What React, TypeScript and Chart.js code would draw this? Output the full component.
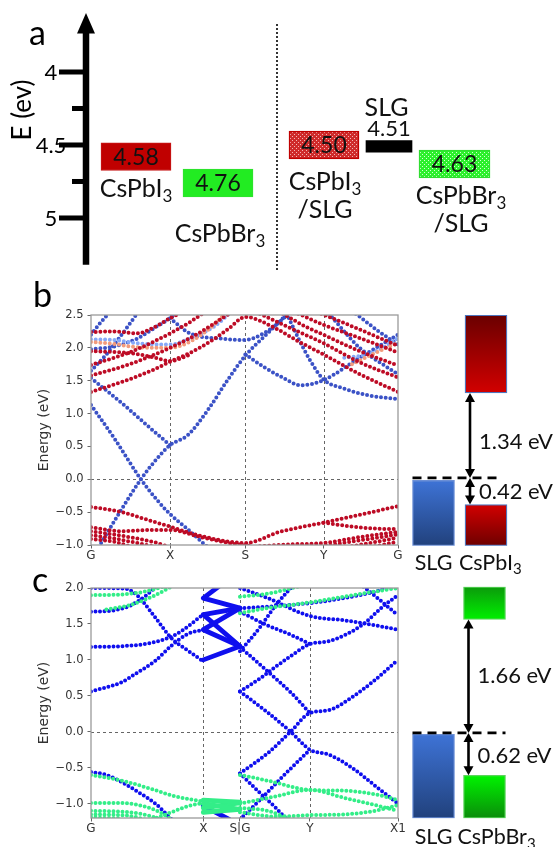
import React, { useEffect, useRef } from 'react';
import { Chart, registerables } from 'chart.js';
Chart.register(...registerables);

const FONT = 'Lato, "Noto Sans", sans-serif';
const MPL = '"DejaVu Sans", sans-serif';

// ---------- Panel a data ----------
const levelNames = ['CsPbI_3', 'CsPbBr_3', 'CsPbI_3/SLG', 'SLG', 'CsPbBr_3/SLG'];
const levelValues = [4.58, 4.76, 4.5, 4.51, 4.63];
const eTicks = [4, 4.25, 4.5, 4.75, 5];
const eTickLabels = ['4', '', '4.5', '', '5'];

// layout of panel a (positions / sizes, not data)
const levelSlotX = [136, 218, 324, 389, 454.5];
const levelBoxW = [70, 70, 70, 46, 71];
const levelHalfH = [0.095, 0.095, 0.095, 0.04, 0.095];
const levelLabelLines = [['CsPbI_3'], ['CsPbBr_3'], ['CsPbI_3', '/SLG'], ['SLG'], ['CsPbBr_3', '/SLG']];
const levelLabelDy = [[40], [59], [45, 73], [-30], [40, 68]];
const levelLabelDx = [0, 2, 1, -2.5, 6.5];

// ---------- Panel b data (k: G=0 ... G=4) ----------
const bKTicks = [0, 1.03, 2.01, 3.03, 4];
const bKLabels = ['G', 'X', 'S', 'Y', 'G'];
const bETicks = [-1, -0.5, 0, 0.5, 1, 1.5, 2, 2.5];
const bELabels = ['\u22121.0', '\u22120.5', '0.0', '0.5', '1.0', '1.5', '2.0', '2.5'];

const bRedBands = [
  [[0, -0.42], [0.4, -0.5], [0.8, -0.64], [1.03, -0.72], [1.3, -0.82], [1.7, -0.93], [2.01, -0.97], [2.46, -0.8], [3.03, -0.66], [3.54, -0.53], [4, -0.41]],
  [[3.03, -0.66], [3.4, -0.72], [3.7, -0.75], [4, -0.76]],
  [[0, -0.73], [0.4, -0.79], [0.8, -0.77], [1.03, -0.77], [1.4, -0.87], [1.8, -0.97], [2.1, -1.02]],
  [[0, -0.79], [0.4, -0.86], [0.8, -0.95], [1.0, -1.02]],
  [[0, -0.85], [0.3, -0.9], [0.6, -0.97], [0.8, -1.02]],
  [[0, -0.91], [0.3, -0.95], [0.5, -1.02]],
  [[2.2, -1.02], [2.6, -0.99], [3.03, -0.97], [3.5, -0.88], [4, -0.8]],
  [[3.0, -1.02], [3.5, -0.93], [4, -0.84]],
  [[3.4, -1.02], [4, -0.89]],
  [[3.7, -1.02], [4, -0.95]],
  [[0, 1.33], [0.4, 1.48], [0.8, 1.66], [1.03, 1.79], [1.3, 1.93], [1.6, 2.13], [1.8, 2.3], [2.01, 2.47], [2.4, 2.3], [2.7, 2.1], [3.03, 1.9], [3.5, 1.6], [4, 1.33]],
  [[0, 1.58], [0.5, 1.75], [1.03, 2.0], [1.4, 2.22], [1.8, 2.52]],
  [[0, 1.74], [0.5, 1.93], [1.03, 2.22], [1.3, 2.4], [1.45, 2.52]],
  [[0, 1.95], [0.5, 1.92], [0.8, 1.86], [1.03, 1.8], [1.3, 1.9]],
  [[0, 2.24], [0.3, 2.25], [0.6, 2.22], [0.8, 2.3], [1.03, 2.45], [1.15, 2.52]],
  [[2.2, 2.52], [2.6, 2.3], [3.03, 2.07], [3.5, 1.78], [4, 1.55]],
  [[2.5, 2.52], [2.8, 2.32], [3.03, 2.2], [3.5, 1.95], [4, 1.73]],
  [[2.7, 2.52], [3.03, 2.35], [3.5, 2.15], [4, 1.93]],
  [[3.0, 2.52], [3.5, 2.28], [4, 2.03]],
];
const bLightBands = [
  [[0, 2.13], [0.3, 2.12], [0.6, 2.07], [1.03, 2.05], [1.3, 2.15], [1.6, 2.32], [1.8, 2.52]],
  [[3.3, 1.85], [3.6, 1.9], [3.8, 2.0], [4, 2.15]],
];
const bOrangeBands = [
  [[0, 2.09], [0.3, 2.06], [0.6, 2.01], [1.03, 2.0], [1.3, 2.1], [1.55, 2.3], [1.75, 2.52]],
  [[3.4, 1.75], [3.7, 1.92], [4, 2.08]],
];
const bBlueBands = [
  [[0, 1.13], [0.3, 0.63], [0.65, 0.0], [0.85, -0.3], [1.03, -0.53], [1.25, -0.75], [1.46, -0.97], [1.52, -1.03]],
  [[0.1, -1.03], [0.35, -0.55], [0.65, 0.0], [0.85, 0.3], [1.03, 0.52], [1.26, 0.67], [1.52, 1.05], [1.78, 1.51], [2.01, 1.88], [2.3, 2.22], [2.56, 2.52]],
  [[0, 1.54], [0.4, 1.16], [0.8, 0.75], [1.03, 0.52]],
  [[0, 1.65], [0.2, 1.9], [0.4, 2.2], [0.6, 2.52]],
  [[0, 2.2], [0.1, 2.35], [0.25, 2.55]],
  [[1.03, 2.45], [1.29, 2.22], [1.7, 2.14], [2.01, 2.12], [2.25, 2.22], [2.43, 2.37], [2.56, 2.5]],
  [[0, 1.98], [0.3, 2.02], [0.6, 2.14], [0.85, 2.32], [1.03, 2.45], [1.1, 2.52]],
  [[2.01, 1.9], [2.25, 1.71], [2.51, 1.54], [2.73, 1.43], [3.03, 1.51], [3.5, 1.85], [4, 2.2]],
  [[2.55, 2.52], [2.7, 2.15], [2.85, 1.82], [3.03, 1.52], [3.3, 1.38], [3.6, 1.28], [4, 1.22]],
  [[3.1, 2.52], [3.5, 2.0], [3.8, 1.75], [4, 1.6]],
  [[3.45, 2.52], [3.75, 2.25], [4, 2.05]],
];

// ---------- Panel c data (k: G=0, X, S|G, Y, X1=4) ----------
const cKTicks = [0, 1.463, 1.941, 2.853, 4];
const cKLabels = ['G', 'X', 'S|G', 'Y', 'X1'];
const cETicks = [-1, -0.5, 0, 0.5, 1, 1.5, 2];
const cELabels = ['\u22121.0', '\u22120.5', '0.0', '0.5', '1.0', '1.5', '2.0'];

const cGreenBands = [
  [[0, 1.9], [0.4, 1.91], [0.7, 1.95], [0.95, 2.02]],
  [[0.2, 1.7], [0.5, 1.76], [0.8, 1.88], [1.05, 2.02]],
  [[0, -0.6], [0.4, -0.68], [0.8, -0.8], [1.1, -0.9], [1.463, -0.97]],
  [[0, -0.99], [0.4, -0.99], [0.7, -1.04], [0.9, -1.12], [1.05, -1.22]],
  [[0.8, -1.22], [1.05, -1.12], [1.25, -1.04], [1.463, -0.99]],
  [[0, -1.1], [0.5, -1.12], [0.8, -1.18], [0.9, -1.22]],
  [[0, -1.15], [0.5, -1.17], [0.7, -1.22]],
  [[0, -1.19], [0.4, -1.21]],
  [[1.941, -0.6], [2.3, -0.68], [2.853, -0.81], [3.3, -0.82], [3.7, -0.87], [4, -0.95]],
  [[1.941, -1.0], [2.4, -0.9], [2.853, -0.81], [3.3, -0.92], [3.7, -1.02], [4, -1.1]],
  [[1.941, -1.12], [2.4, -1.18], [2.853, -1.16], [3.3, -1.15], [3.7, -1.1], [4, -1.02]],
  [[1.941, -1.06], [2.3, -1.1], [2.6, -1.22]],
  [[1.941, 1.65], [2.3, 1.72], [2.853, 1.8], [3.3, 1.88], [3.7, 1.95], [4, 2.0]],
  [[1.941, 1.88], [2.3, 1.92], [2.7, 2.02]],
];
const cGreenZigzags = [
  [[1.463, -0.95], [1.941, -0.98]],
  [[1.463, -1.0], [1.941, -1.08], [1.463, -1.12]],
  [[1.463, -1.06], [1.941, -0.99]],
];
const cBlueBands = [
  [[0, 1.18], [0.4, 1.19], [0.8, 1.24], [1.1, 1.35], [1.463, 1.63]],
  [[0, 0.56], [0.4, 0.69], [0.6, 0.82], [0.83, 0.98], [1.05, 1.2], [1.26, 1.36], [1.463, 1.42]],
  [[0, 2.0], [0.45, 1.99], [0.6, 1.9], [0.83, 1.6], [1.05, 1.3], [1.26, 1.13], [1.463, 0.98]],
  [[0, 1.67], [0.3, 1.69], [0.5, 1.75], [0.7, 1.88], [0.85, 2.02]],
  [[0, -0.56], [0.2, -0.6], [0.4, -0.7], [0.6, -0.83], [0.85, -1.01], [1.05, -1.22]],
  [[1.941, 0.56], [2.2, 0.74], [2.4, 0.9], [2.6, 1.05], [2.853, 1.22], [3.1, 1.26], [3.54, 1.49], [3.8, 1.74], [4, 1.9]],
  [[1.941, 0.56], [2.3, 0.27], [2.6, 0.0], [2.853, -0.25], [3.1, -0.32], [3.4, -0.5], [3.7, -0.75], [4, -1.0]],
  [[1.941, -0.58], [2.3, -0.3], [2.6, 0.0], [2.853, 0.26], [3.1, 0.3], [3.4, 0.48], [3.7, 0.72], [4, 1.0]],
  [[1.941, 1.67], [2.3, 1.48], [2.6, 1.35], [2.853, 1.22]],
  [[1.941, 1.18], [2.3, 0.84], [2.6, 0.55], [2.853, 0.26]],
  [[1.941, 1.12], [2.2, 1.45], [2.4, 1.75], [2.56, 1.95], [2.62, 2.02]],
  [[1.941, -0.58], [2.2, -0.85], [2.4, -1.05], [2.55, -1.22]],
  [[1.941, -1.22], [2.2, -0.95], [2.5, -0.62], [2.853, -0.25]],
  [[1.941, 2.0], [2.3, 1.86], [2.853, 1.61], [3.3, 1.55], [3.7, 1.48], [4, 1.42]],
  [[1.941, 1.72], [2.3, 1.74], [2.853, 1.79], [3.3, 1.86], [3.7, 1.95], [3.9, 2.02]],
  [[3.55, 2.02], [3.8, 1.8], [4, 1.62]],
];
const cBlueZigzags = [
  [[1.463, 1.0], [1.941, 1.19], [1.463, 1.42], [1.941, 1.72], [1.463, 1.86], [1.7, 2.05]],
  [[1.941, 1.72], [1.463, 1.63], [1.941, 1.19]],
  [[1.463, -1.03], [1.8, -1.22]],
];

// ---------- Band alignment diagrams ----------
const diagBNames = ['SLG', 'CsPbI_3'];
const diagBGap = 1.34;
const diagBOffset = 0.42;
const diagBEdges = { top: 2.57, bottom: -1.07, slgTop: -0.04 };
const diagCNames = ['SLG', 'CsPbBr_3'];
const diagCGap = 1.66;
const diagCOffset = 0.62;
const diagCEdges = { top: 2.14, bottom: -1.25, slgTop: -0.02 };

// ---------- helpers ----------
function drawChem(ctx: CanvasRenderingContext2D, text: string, x: number, y: number, size: number, align = 'center') {
  const parts = text.split(/(_\d)/).filter(Boolean);
  const main = `${size}px ${FONT}`;
  const sub = `${Math.round(size * 0.68)}px ${FONT}`;
  let total = 0;
  const widths = parts.map((p) => {
    ctx.font = p.startsWith('_') ? sub : main;
    const w = ctx.measureText(p.replace('_', '')).width;
    total += w;
    return w;
  });
  let cx = align === 'center' ? x - total / 2 : align === 'right' ? x - total : x;
  ctx.textAlign = 'left';
  ctx.textBaseline = 'alphabetic';
  parts.forEach((p, i) => {
    const isSub = p.startsWith('_');
    ctx.font = isSub ? sub : main;
    ctx.fillText(p.replace('_', ''), cx, isSub ? y + size * 0.2 : y);
    cx += widths[i];
  });
}

function speckle(base: string, dot: string) {
  const c = document.createElement('canvas');
  c.width = 4;
  c.height = 4;
  const g = c.getContext('2d')!;
  g.fillStyle = base;
  g.fillRect(0, 0, 4, 4);
  g.fillStyle = dot;
  g.fillRect(0, 0, 1, 1);
  g.fillRect(2, 2, 1, 1);
  return g.createPattern(c, 'repeat')!;
}

// ---------- Panel a ----------
function makePanelA(): any {
  const fills = [
    '#c00000',
    '#22ec22',
    speckle('#cf2b2b', '#f4b4b4'),
    '#000000',
    speckle('#2cf02c', '#d2ffd2'),
  ];
  const borders = ['#c81818', '#30e030', '#c00000', '#000000', '#30dd30'];
  const borderW = [1, 1, 1.5, 0, 1.5];
  const plugin = {
    id: 'panelA',
    afterDatasetsDraw(chart: any) {
      const { ctx, scales } = chart;
      const x = scales.x;
      const y = scales.y;
      const ax = x.getPixelForValue(86);
      const yTop = y.getPixelForValue(y.min);
      const yBot = y.getPixelForValue(y.max);
      ctx.save();
      ctx.fillStyle = '#000';
      ctx.strokeStyle = '#000';
      ctx.lineWidth = 6.5;
      ctx.beginPath();
      ctx.moveTo(ax, yBot);
      ctx.lineTo(ax, yTop + 16);
      ctx.stroke();
      ctx.beginPath();
      ctx.moveTo(ax, yTop - 0.5);
      ctx.lineTo(ax - 9, yTop + 20);
      ctx.lineTo(ax + 9, yTop + 20);
      ctx.closePath();
      ctx.fill();
      eTicks.forEach((v, i) => {
        const py = y.getPixelForValue(v);
        const len = eTickLabels[i] ? 27 : 14;
        ctx.fillRect(ax - len, py - 2.5, len, 5);
      });
      ctx.font = `22px ${FONT}`;
      ctx.textAlign = 'center';
      ctx.textBaseline = 'middle';
      eTicks.forEach((v, i) => {
        if (!eTickLabels[i]) return;
        ctx.fillText(eTickLabels[i], ax - 35, y.getPixelForValue(v) + 1);
      });
      // axis title
      ctx.save();
      ctx.translate(23, 110);
      ctx.rotate(-Math.PI / 2);
      ctx.font = `26px ${FONT}`;
      ctx.textAlign = 'center';
      ctx.textBaseline = 'middle';
      ctx.fillText('E (ev)', 0, 0);
      ctx.restore();
      // panel letter
      ctx.font = `34px ${FONT}`;
      ctx.textAlign = 'left';
      ctx.textBaseline = 'alphabetic';
      ctx.fillText('a', 29, 45);
      // separator
      ctx.save();
      ctx.strokeStyle = '#333';
      ctx.lineWidth = 2;
      ctx.setLineDash([2, 2]);
      ctx.beginPath();
      ctx.moveTo(x.getPixelForValue(277), 24);
      ctx.lineTo(x.getPixelForValue(277), 272);
      ctx.stroke();
      ctx.restore();
      // box texts and labels
      ctx.fillStyle = '#111';
      levelValues.forEach((v, i) => {
        const el = chart.getDatasetMeta(i).data[0];
        const cx = el.x;
        const cy = y.getPixelForValue(v);
        if (levelNames[i] !== 'SLG') {
          ctx.font = `23px ${FONT}`;
          ctx.textAlign = 'center';
          ctx.textBaseline = 'middle';
          ctx.fillText(v.toFixed(2), cx, cy + 1);
        } else {
          ctx.font = `22px ${FONT}`;
          ctx.textAlign = 'center';
          ctx.textBaseline = 'alphabetic';
          ctx.fillText(v.toFixed(2), cx, cy - 10);
        }
        levelLabelLines[i].forEach((line, j) => {
          drawChem(ctx, line, cx + levelLabelDx[i], cy + levelLabelDy[i][j], 25);
        });
      });
      ctx.restore();
    },
  };
  return {
    type: 'bar',
    data: {
      datasets: levelValues.map((v, i) => ({
        label: levelNames[i],
        data: [{ x: levelSlotX[i], y: [v - levelHalfH[i], v + levelHalfH[i]] }],
        backgroundColor: fills[i],
        borderColor: borders[i],
        borderWidth: borderW[i],
        borderSkipped: false,
        barThickness: levelBoxW[i],
        grouped: false,
      })),
    },
    options: {
      animation: false,
      responsive: false,
      events: [],
      layout: { padding: { top: 13.6, bottom: 25.3, left: 0, right: 0 } },
      plugins: { legend: { display: false }, tooltip: { enabled: false } },
      scales: {
        x: { type: 'linear', min: 0, max: 559, display: false, offset: false },
        y: { type: 'linear', min: 3.6, max: 5.32, reverse: true, display: false },
      },
    },
    plugins: [plugin],
  };
}

// ---------- band structure charts ----------
type Group = { color: string; bands: number[][][]; solid?: boolean; gap?: number; width?: number };

function bandDatasets(groups: Group[]) {
  const ds: any[] = [];
  groups.forEach((g) => {
    g.bands.forEach((band) => {
      ds.push({
        data: band.map(([x, y]) => ({ x, y })),
        showLine: true,
        borderColor: g.color,
        backgroundColor: g.color,
        borderWidth: g.solid ? 4.8 : g.width || 4,
        borderDash: g.solid ? [] : [0, g.gap || 4.7],
        borderCapStyle: 'round',
        borderJoinStyle: 'round',
        pointRadius: 0,
        pointHoverRadius: 0,
        cubicInterpolationMode: g.solid ? 'default' : 'monotone',
        tension: 0,
        fill: false,
      });
    });
  });
  return ds;
}

function makeBand(spec: any): any {
  const frame = {
    id: 'bandFrame',
    beforeDatasetsDraw(chart: any) {
      const { ctx, chartArea: a, scales } = chart;
      ctx.save();
      ctx.strokeStyle = '#666';
      ctx.lineWidth = 1;
      ctx.setLineDash([3, 3]);
      spec.kTicks.slice(1, -1).forEach((k: number) => {
        const px = Math.round(scales.x.getPixelForValue(k)) + 0.5;
        ctx.beginPath();
        ctx.moveTo(px, a.top);
        ctx.lineTo(px, a.bottom);
        ctx.stroke();
      });
      const py = Math.round(scales.y.getPixelForValue(0)) + 0.5;
      ctx.beginPath();
      ctx.moveTo(a.left, py);
      ctx.lineTo(a.right, py);
      ctx.stroke();
      ctx.restore();
    },
    afterDatasetsDraw(chart: any) {
      const { ctx, chartArea: a } = chart;
      ctx.save();
      ctx.strokeStyle = '#9a9a9a';
      ctx.lineWidth = 1.3;
      ctx.strokeRect(a.left, a.top, a.right - a.left, a.bottom - a.top);
      ctx.fillStyle = '#000';
      ctx.font = `34px ${FONT}`;
      ctx.textAlign = 'left';
      ctx.textBaseline = 'alphabetic';
      ctx.fillText(spec.letter, spec.letterX, spec.letterY);
      ctx.restore();
    },
  };
  return {
    type: 'scatter',
    data: { datasets: bandDatasets(spec.groups) },
    options: {
      animation: false,
      responsive: false,
      events: [],
      layout: { padding: { top: spec.padTop, right: 12, left: 0, bottom: 0 } },
      plugins: { legend: { display: false }, tooltip: { enabled: false } },
      scales: {
        x: {
          type: 'linear',
          min: 0,
          max: 4,
          afterBuildTicks: (s: any) => {
            s.ticks = spec.kTicks.map((value: number) => ({ value }));
          },
          afterFit: (s: any) => {
            s.height = spec.xAxisH;
          },
          ticks: {
            autoSkip: false,
            maxRotation: 0,
            padding: 0,
            font: { family: MPL, size: 12 },
            color: '#333',
            callback: (_v: any, i: number) => spec.kLabels[i],
          },
          grid: { drawOnChartArea: false, tickLength: 3.5, color: '#666' },
          border: { display: false },
        },
        y: {
          type: 'linear',
          min: spec.eMin,
          max: spec.eMax,
          afterBuildTicks: (s: any) => {
            s.ticks = spec.eTicks.map((value: number) => ({ value }));
          },
          afterFit: (s: any) => {
            s.width = 91;
          },
          ticks: {
            autoSkip: false,
            padding: 4,
            font: { family: MPL, size: 11.5 },
            color: '#333',
            callback: (_v: any, i: number) => spec.eLabels[i],
          },
          grid: { drawOnChartArea: false, tickLength: 3.5, color: '#666' },
          border: { display: false },
          title: {
            display: true,
            text: 'Energy (eV)',
            font: { family: MPL, size: 14 },
            color: '#333',
            padding: { top: 36, bottom: 0 },
          },
        },
      },
    },
    plugins: [frame],
  };
}

function makeBandB() {
  return makeBand({
    groups: [
      { color: '#bd0b25', bands: bRedBands },
      { color: '#f29b7c', bands: bOrangeBands },
      { color: '#86a8f8', bands: bLightBands },
      { color: '#3b52c6', bands: bBlueBands },
    ],
    kTicks: bKTicks,
    kLabels: bKLabels,
    eTicks: bETicks,
    eLabels: bELabels,
    eMin: -1,
    eMax: 2.5,
    padTop: 37,
    xAxisH: 30,
    letter: 'b',
    letterX: 33,
    letterY: 29,
  });
}

function makeBandC() {
  return makeBand({
    groups: [
      { color: '#33ee88', bands: cGreenBands, gap: 4.5 },
      { color: '#33ee88', bands: cGreenZigzags, solid: true },
      { color: '#0f0fee', bands: cBlueBands, gap: 4.5 },
      { color: '#0f0fee', bands: cBlueZigzags, solid: true },
    ],
    kTicks: cKTicks,
    kLabels: cKLabels,
    eTicks: cETicks,
    eLabels: cELabels,
    eMin: -1.2,
    eMax: 2.0,
    padTop: 18,
    xAxisH: 29,
    letter: 'c',
    letterX: 32,
    letterY: 22,
  });
}

// ---------- band alignment diagrams ----------
function gradientFill(top: string, bottom: string) {
  return (c: any) => {
    const chart = c.chart;
    const ys = chart.scales && chart.scales.y;
    const raw = c.raw;
    if (!ys || !raw || !Array.isArray(raw)) return top;
    const y0 = ys.getPixelForValue(Math.max(raw[0], raw[1]));
    const y1 = ys.getPixelForValue(Math.min(raw[0], raw[1]));
    if (!isFinite(y0) || !isFinite(y1)) return top;
    const g = chart.ctx.createLinearGradient(0, y0, 0, y1);
    g.addColorStop(0, top);
    g.addColorStop(1, bottom);
    return g;
  };
}

function drawDoubleArrow(ctx: CanvasRenderingContext2D, x: number, y1: number, y2: number) {
  const h = 9;
  const w = 5;
  ctx.lineWidth = 2.6;
  ctx.beginPath();
  ctx.moveTo(x, y1 + h - 1);
  ctx.lineTo(x, y2 - h + 1);
  ctx.stroke();
  ctx.beginPath();
  ctx.moveTo(x, y1);
  ctx.lineTo(x - w, y1 + h);
  ctx.lineTo(x + w, y1 + h);
  ctx.closePath();
  ctx.fill();
  ctx.beginPath();
  ctx.moveTo(x, y2);
  ctx.lineTo(x - w, y2 - h);
  ctx.lineTo(x + w, y2 - h);
  ctx.closePath();
  ctx.fill();
}

function makeDiag(spec: any): any {
  const plugin = {
    id: 'diag',
    afterDatasetsDraw(chart: any) {
      const { ctx, chartArea: a, scales } = chart;
      const ys = scales.y;
      const slgEl = chart.getDatasetMeta(0).data[0];
      const cbEl = chart.getDatasetMeta(1).data[1];
      const y0 = ys.getPixelForValue(0);
      const yc = ys.getPixelForValue(spec.gap);
      const yv = ys.getPixelForValue(-spec.offset);
      ctx.save();
      ctx.strokeStyle = '#000';
      ctx.fillStyle = '#000';
      ctx.lineWidth = 2.6;
      ctx.setLineDash([9, 6]);
      ctx.beginPath();
      ctx.moveTo(slgEl.x - 21, y0);
      ctx.lineTo(cbEl.x + spec.dashEnd, y0);
      ctx.stroke();
      ctx.setLineDash([]);
      const ax = cbEl.x - 16;
      drawDoubleArrow(ctx, ax, yc, y0);
      drawDoubleArrow(ctx, ax, y0, yv);
      ctx.font = `22px ${FONT}`;
      ctx.textAlign = 'left';
      ctx.textBaseline = 'middle';
      ctx.fillStyle = '#111';
      ctx.fillText(`${spec.gap.toFixed(2)} eV`, ax + 9, (yc + y0) / 2 + spec.labelShift[0]);
      ctx.fillText(`${spec.offset.toFixed(2)} eV`, ax + 9, (y0 + yv) / 2 + spec.labelShift[1]);
      drawChem(ctx, spec.names[0], slgEl.x, a.bottom + spec.nameDy, 21.5, 'center');
      drawChem(ctx, spec.names[1], cbEl.x - 27, a.bottom + spec.nameDy, 21.5, 'left');
      ctx.restore();
    },
  };
  const e = spec.edges;
  return {
    type: 'bar',
    data: {
      labels: spec.names,
      datasets: [
        {
          data: [[e.bottom, e.slgTop], null],
          backgroundColor: gradientFill('#3e73d6', '#21417c'),
          borderColor: '#6b8fd6',
        },
        {
          data: [null, [spec.gap, e.top]],
          backgroundColor: gradientFill(spec.cbColors[0], spec.cbColors[1]),
          borderColor: spec.edgeColor,
        },
        {
          data: [null, [e.bottom, -spec.offset]],
          backgroundColor: gradientFill(spec.vbColors[0], spec.vbColors[1]),
          borderColor: spec.edgeColor,
        },
      ].map((d) => ({ ...d, borderWidth: 1.3, borderSkipped: false, barThickness: 42, grouped: false })),
    },
    options: {
      animation: false,
      responsive: false,
      events: [],
      layout: { padding: spec.padding },
      plugins: { legend: { display: false }, tooltip: { enabled: false } },
      scales: {
        x: { type: 'category', display: false },
        y: { type: 'linear', min: e.bottom, max: e.top, display: false },
      },
    },
    plugins: [plugin],
  };
}

function makeDiagB() {
  return makeDiag({
    names: diagBNames,
    gap: diagBGap,
    offset: diagBOffset,
    edges: diagBEdges,
    cbColors: ['#6a0000', '#d20000'],
    vbColors: ['#d20000', '#6e0000'],
    edgeColor: '#4f75bd',
    padding: { left: 7.25, right: 46.75, top: 15, bottom: 34.3 },
    dashEnd: 11,
    labelShift: [6, 1],
    nameDy: 24,
  });
}

function makeDiagC() {
  return makeDiag({
    names: diagCNames,
    gap: diagCGap,
    offset: diagCOffset,
    edges: diagCEdges,
    cbColors: ['#0b9a0b', '#00f000'],
    vbColors: ['#00f400', '#0a8c0a'],
    edgeColor: '#5ad45a',
    padding: { left: 8, right: 49, top: 11.7, bottom: 28.7 },
    dashEnd: 21,
    labelShift: [0, 2],
    nameDy: 26,
  });
}

function ChartCanvas({ left, top, width, height, make }: any) {
  const ref = useRef<HTMLCanvasElement>(null);
  useEffect(() => {
    const chart = new Chart(ref.current as HTMLCanvasElement, make());
    return () => chart.destroy();
  }, []);
  return (
    <canvas
      ref={ref}
      width={width}
      height={height}
      style={{ position: 'absolute', left, top, width, height }}
    />
  );
}

export default function App() {
  return (
    <div style={{ position: 'absolute', left: 0, top: 0, width: 559, height: 847, background: '#fff', overflow: 'hidden' }}>
      <ChartCanvas left={0} top={0} width={559} height={290} make={makePanelA} />
      <ChartCanvas left={0} top={278} width={410} height={297} make={makeBandB} />
      <ChartCanvas left={400} top={300} width={159} height={280} make={makeDiagB} />
      <ChartCanvas left={0} top={570} width={410} height={277} make={makeBandC} />
      <ChartCanvas left={400} top={575} width={159} height={272} make={makeDiagC} />
    </div>
  );
}
